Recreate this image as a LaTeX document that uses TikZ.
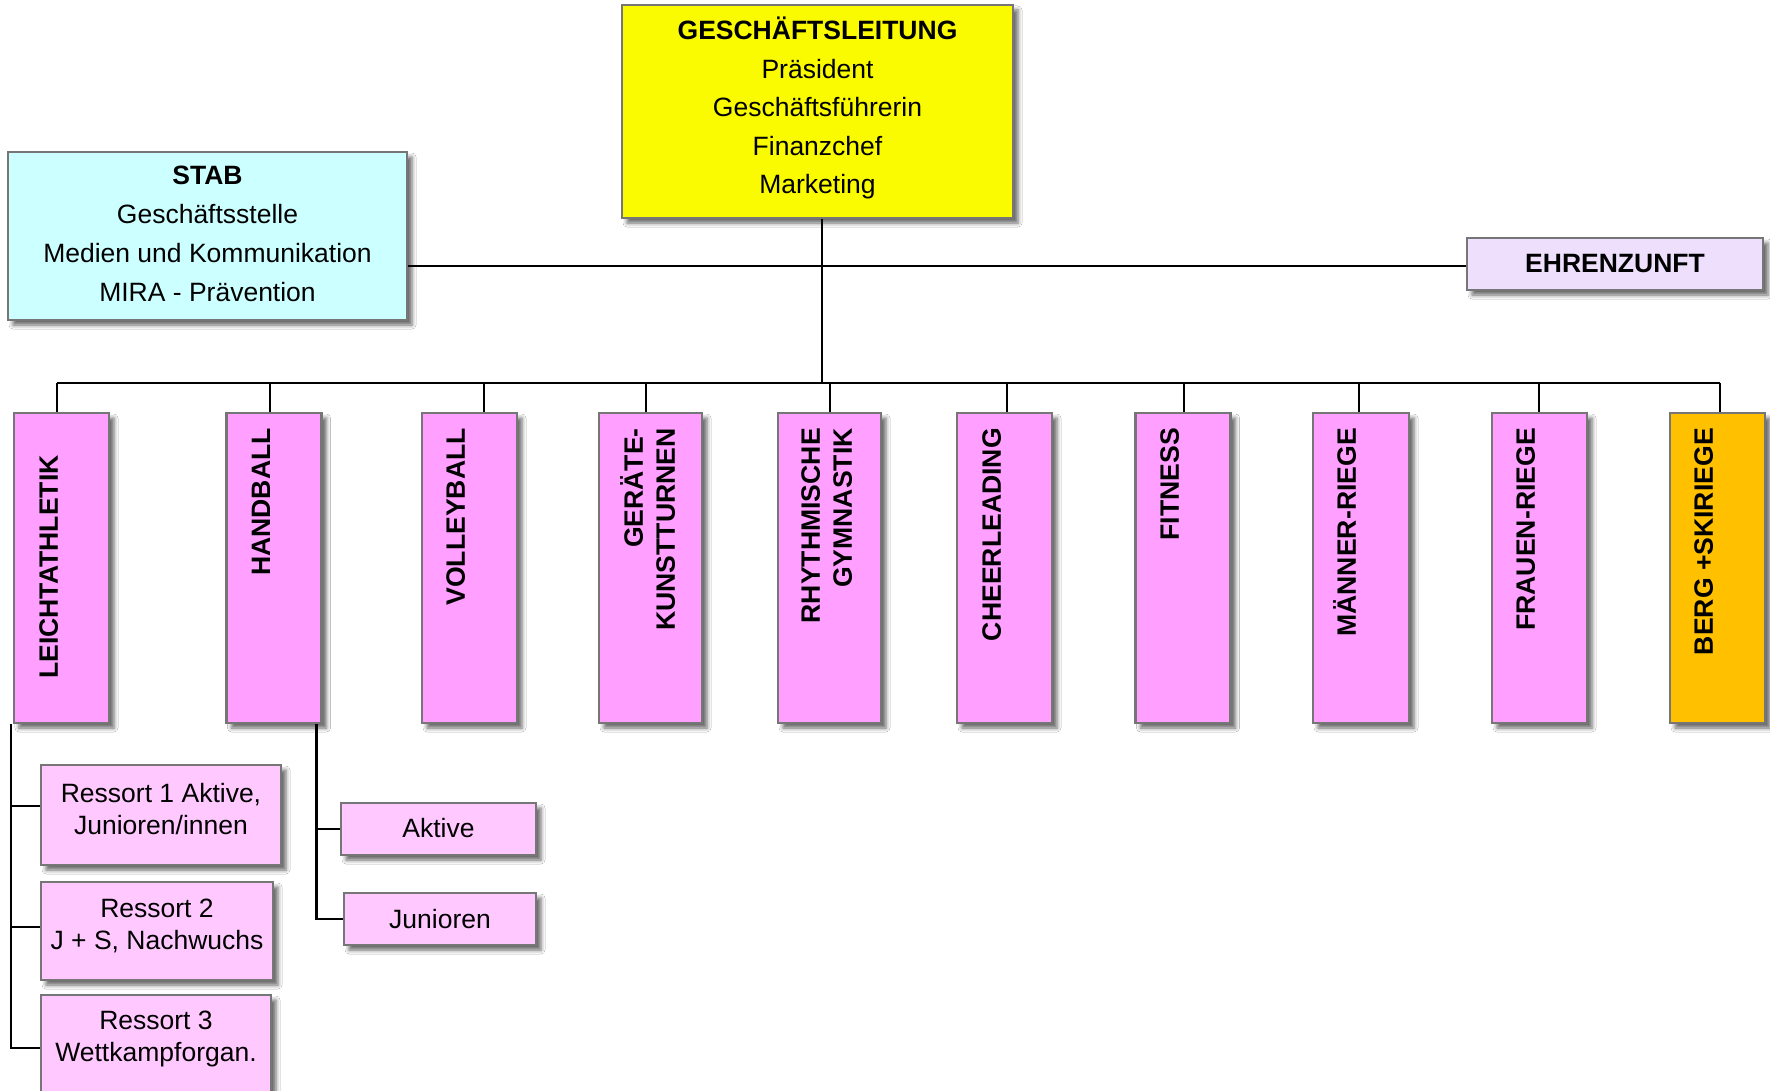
\documentclass[tikz,border=0pt]{standalone}
\usepackage{fontspec}
\setmainfont{Liberation Sans}
\usetikzlibrary{shadows.blur}
\definecolor{bordergray}{HTML}{767676}
\definecolor{glyellow}{HTML}{FAFA00}
\definecolor{stabcyan}{HTML}{CCFFFF}
\definecolor{ehrenlav}{HTML}{EEE0FC}
\definecolor{sportpink}{HTML}{FF9FFF}
\definecolor{subpink}{HTML}{FFC8FF}
\definecolor{bergorange}{HTML}{FFC000}
\newcommand\mystrutup{\rule{0pt}{26pt}}
\newcommand\mystrutdn[1]{\rule[-#1pt]{0pt}{#1pt}}
\tikzset{
  box/.style={draw=bordergray, line width=2.2pt, inner sep=0pt, align=center,
    blur shadow={shadow xshift=5pt, shadow yshift=-5pt, shadow blur radius=4pt, shadow opacity=60}},
  sport/.style={box, fill=sportpink, minimum width=95pt, minimum height=310pt},
  subbox/.style={box, fill=subpink, font=\fontsize{26.5}{32}\selectfont},
  vlabel/.style={rotate=90, anchor=east, inner sep=0pt, align=right,
    font=\bfseries\fontsize{26.6}{32}\selectfont},
  conn/.style={line width=2.4pt, black}
}
\begin{document}
\begin{tikzpicture}[x=1pt,y=-1pt]
\path[fill=white, use as bounding box] (0,0) rectangle (1770,1091);

% top level
\node[box, fill=glyellow, minimum width=391pt, minimum height=213pt,
  font=\fontsize{26.5}{38.5}\selectfont] (gl) at (817.5,111.5)
  {\mystrutup\textbf{GESCHÄFTSLEITUNG}\\Präsident\\Geschäftsführerin\\Finanzchef\\Marketing\mystrutdn{15}};
\node[box, fill=stabcyan, minimum width=399pt, minimum height=168pt,
  font=\fontsize{26.5}{38.7}\selectfont] (stab) at (207.5,236)
  {\mystrutup\textbf{STAB}\\Geschäftsstelle\\Medien und Kommunikation\\MIRA - Prävention\mystrutdn{12}};
\node[box, fill=ehrenlav, minimum width=296pt, minimum height=52pt,
  font=\fontsize{26.5}{32}\selectfont] (ehren) at (1615,264)
  {\mystrutup\textbf{EHRENZUNFT}\mystrutdn{8}};

% sport boxes
\node[sport] (leicht)  at (61.5,568) {};
\node[sport] (hand)    at (274,568) {};
\node[sport] (volley)  at (469.5,568) {};
\node[sport, minimum width=103pt] (geraete) at (650.5,568) {};
\node[sport, minimum width=103pt] (rhythm)  at (829.5,568) {};
\node[sport] (cheer)   at (1004.5,568) {};
\node[sport] (fitness) at (1183,568) {};
\node[sport, minimum width=96pt] (maenner) at (1361,568) {};
\node[sport] (frauen)  at (1539.5,568) {};
\node[sport, fill=bergorange] (berg) at (1717.5,568) {};

\node[vlabel] (leichtT)  at (45,455)   {\mystrutup LEICHTATHLETIK};
\node[vlabel] (handT)    at (257,428)  {\mystrutup HANDBALL};
\node[vlabel] (volleyT)  at (452,428)  {\mystrutup VOLLEYBALL};
\node[vlabel] (geraeteT) at (646,428)  {\mystrutup GERÄTE-\\KUNSTTURNEN};
\node[vlabel] (rhythmT)  at (823,428)  {\mystrutup RHYTHMISCHE\\GYMNASTIK};
\node[vlabel] (cheerT)   at (988,428)  {\mystrutup CHEERLEADING};
\node[vlabel] (fitnessT) at (1166,428) {\mystrutup FITNESS};
\node[vlabel] (maennerT) at (1343,428) {\mystrutup MÄNNER-RIEGE};
\node[vlabel] (frauenT)  at (1522,428) {\mystrutup FRAUEN-RIEGE};
\node[vlabel] (bergT)    at (1700,428) {\mystrutup BERG +SKIRIEGE};

% sub boxes
\node[subbox, minimum width=240pt, minimum height=100pt] (r1) at (161,815)
  {\mystrutup Ressort 1 Aktive,\\Junioren/innen\mystrutdn{20}};
\node[subbox, minimum width=232pt, minimum height=98pt] (r2) at (157,931)
  {\mystrutup Ressort 2\\J + S, Nachwuchs\mystrutdn{22}};
\node[subbox, minimum width=230pt, minimum height=105pt] (r3) at (156,1047.5)
  {\mystrutup Ressort 3\\Wettkampforgan.\mystrutdn{31}};
\node[subbox, minimum width=195pt, minimum height=52pt] (ak) at (438.5,829)
  {\mystrutup Aktive\mystrutdn{10}};
\node[subbox, minimum width=192pt, minimum height=52pt] (jun) at (440,919)
  {\mystrutup Junioren\mystrutdn{8}};

% connectors
\coordinate (busL) at (57,383);
\coordinate (busR) at (1720,383);
\draw[conn] (busL) -- (busR);
\coordinate (glc) at ([xshift=4.5pt]gl.south);
\draw[conn] (glc) -- (glc |- busL);
\foreach \n/\dx in {leicht/-4.5, hand/-4, volley/14.5, geraete/-4.5, rhythm/0.5,
                    cheer/2.5, fitness/1, maenner/-2, frauen/-0.5, berg/2.5} {
  \coordinate (c-\n) at ([xshift=\dx pt]\n.north);
  \draw[conn] (c-\n) -- (c-\n |- busL);
}
\coordinate (se) at ([yshift=-30pt]stab.east);
\draw[conn] (se) -- (se -| ehren.west);

\coordinate (lv) at ([xshift=-2pt]leicht.south west);
\coordinate (t1) at ([yshift=9pt]r1.west);
\coordinate (t2) at ([yshift=4pt]r2.west);
\coordinate (t3) at ([yshift=-0.5pt]r3.west);
\draw[conn] (lv) |- (t3);
\draw[conn] (lv |- t1) -- (t1);
\draw[conn] (lv |- t2) -- (t2);

\coordinate (hv) at ([xshift=-6pt]hand.south east);
\draw[conn] (hv) |- (jun.west);
\draw[conn] (hv |- ak.west) -- (ak.west);
\end{tikzpicture}
\end{document}
